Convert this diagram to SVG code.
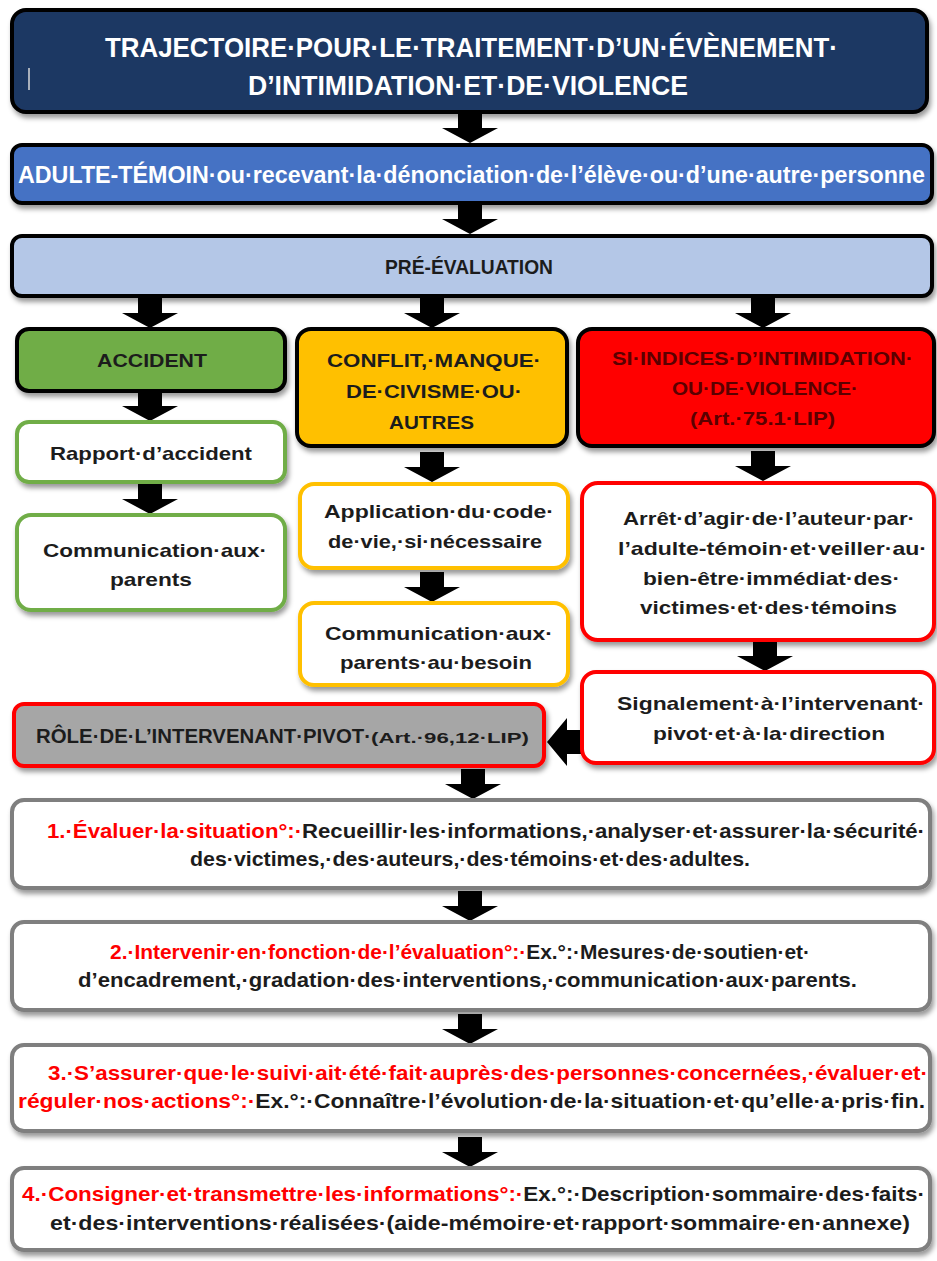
<svg xmlns="http://www.w3.org/2000/svg" width="937" height="1261" viewBox="0 0 937 1261">
<defs>
<filter id="sh" x="-5%" y="-10%" width="112%" height="130%">
<feDropShadow dx="2" dy="4" stdDeviation="2.5" flood-color="#000" flood-opacity="0.4"/>
</filter>
<path id="dn" d="M-12,-30 H12 V-15 H28 L0,0 L-28,-15 H-12 Z" fill="#000"/>
</defs>
<style>
text{font-family:"Liberation Sans",Arial,sans-serif;font-weight:bold}
.blk{stroke:#000;stroke-width:4}
.w{fill:#fff}
.d{fill:#1c1c1c}
.r{fill:#ff0000}
.m{fill:#5a0000}
.gb{fill:#fff;stroke:#70ad47;stroke-width:4}
.yb{fill:#fff;stroke:#ffc000;stroke-width:4}
.rb{fill:#fff;stroke:#ff0000;stroke-width:4}
.sb{fill:#fff;stroke:#7f7f7f;stroke-width:4}
</style>

<g id="connectors">
<use href="#dn" x="470" y="143"/>
<use href="#dn" x="470" y="234"/>
<use href="#dn" x="150" y="328"/>
<use href="#dn" x="432" y="328"/>
<use href="#dn" x="763" y="328"/>
<use href="#dn" x="150" y="421"/>
<use href="#dn" x="150" y="514"/>
<use href="#dn" x="432" y="482"/>
<use href="#dn" x="432" y="602"/>
<use href="#dn" x="763" y="481"/>
<use href="#dn" x="765" y="671"/>
<path d="M547,742 L567,718 V730 H584 V754 H567 V766 Z" fill="#000"/>
<use href="#dn" x="473" y="799"/>
<use href="#dn" x="470" y="921"/>
<use href="#dn" x="470" y="1044"/>
<use href="#dn" x="470" y="1167"/>
</g>

<g id="title">
<rect x="12" y="10" width="915" height="102" rx="14" fill="#1f3864" class="blk" filter="url(#sh)"/>
<line x1="29" y1="68" x2="29" y2="90" stroke="#d9d9d9" stroke-width="1.5"/>
<text x="105" y="57" font-size="28" class="w" textLength="733" lengthAdjust="spacingAndGlyphs">TRAJECTOIRE·POUR·LE·TRAITEMENT·D’UN·ÉVÈNEMENT·</text>
<text x="248" y="95" font-size="28" class="w" textLength="440" lengthAdjust="spacingAndGlyphs">D’INTIMIDATION·ET·DE·VIOLENCE</text>
</g>

<g id="adulte">
<rect x="12" y="145" width="920" height="58" rx="10" fill="#4472c4" class="blk" filter="url(#sh)"/>
<text x="18" y="183" font-size="23" class="w" textLength="907" lengthAdjust="spacingAndGlyphs">ADULTE-TÉMOIN·ou·recevant·la·dénonciation·de·l’élève·ou·d’une·autre·personne</text>
</g>

<g id="preevaluation">
<rect x="12" y="236" width="920" height="60" rx="10" fill="#b4c7e7" class="blk" filter="url(#sh)"/>
<text x="385" y="274" font-size="21" class="d" textLength="168" lengthAdjust="spacingAndGlyphs">PRÉ-ÉVALUATION</text>
</g>

<g id="accident">
<rect x="17" y="329" width="268" height="62" rx="12" fill="#70ad47" class="blk" filter="url(#sh)"/>
<text x="97" y="367" font-size="18" class="d" textLength="110" lengthAdjust="spacingAndGlyphs">ACCIDENT</text>
</g>

<g id="rapport">
<rect x="17" y="422" width="268" height="60" rx="12" class="gb" filter="url(#sh)"/>
<text x="50" y="460" font-size="19" class="d" textLength="202" lengthAdjust="spacingAndGlyphs">Rapport·d’accident</text>
</g>

<g id="communication-parents">
<rect x="17" y="515" width="268" height="95" rx="14" class="gb" filter="url(#sh)"/>
<text x="43" y="557" font-size="19" class="d" textLength="224" lengthAdjust="spacingAndGlyphs">Communication·aux·</text>
<text x="110" y="586" font-size="19" class="d" textLength="82" lengthAdjust="spacingAndGlyphs">parents</text>
</g>

<g id="conflit">
<rect x="297" y="329" width="270" height="117" rx="14" fill="#ffc000" class="blk" filter="url(#sh)"/>
<text x="327" y="367" font-size="18" class="d" textLength="214" lengthAdjust="spacingAndGlyphs">CONFLIT,·MANQUE·</text>
<text x="346" y="398" font-size="18" class="d" textLength="176" lengthAdjust="spacingAndGlyphs">DE·CIVISME·OU·</text>
<text x="389" y="429" font-size="18" class="d" textLength="85" lengthAdjust="spacingAndGlyphs">AUTRES</text>
</g>

<g id="application">
<rect x="300" y="484" width="268" height="84" rx="14" class="yb" filter="url(#sh)"/>
<text x="324" y="518" font-size="19" class="d" textLength="230" lengthAdjust="spacingAndGlyphs">Application·du·code·</text>
<text x="328" y="548" font-size="19" class="d" textLength="214" lengthAdjust="spacingAndGlyphs">de·vie,·si·nécessaire</text>
</g>

<g id="communication-besoin">
<rect x="300" y="603" width="268" height="82" rx="14" class="yb" filter="url(#sh)"/>
<text x="325" y="640" font-size="19" class="d" textLength="228" lengthAdjust="spacingAndGlyphs">Communication·aux·</text>
<text x="340" y="669" font-size="19" class="d" textLength="192" lengthAdjust="spacingAndGlyphs">parents·au·besoin</text>
</g>

<g id="indices">
<rect x="578" y="329" width="356" height="117" rx="14" fill="#ff0000" class="blk" filter="url(#sh)"/>
<text x="612" y="365" font-size="18" class="m" textLength="301" lengthAdjust="spacingAndGlyphs">SI·INDICES·D’INTIMIDATION·</text>
<text x="672" y="395" font-size="18" class="m" textLength="186" lengthAdjust="spacingAndGlyphs">OU·DE·VIOLENCE·</text>
<text x="690" y="425" font-size="18" class="m" textLength="145" lengthAdjust="spacingAndGlyphs">(Art.·75.1·LIP)</text>
</g>

<g id="arret">
<rect x="582" y="483" width="352" height="157" rx="16" class="rb" filter="url(#sh)"/>
<text x="623" y="525" font-size="19" class="d" textLength="292" lengthAdjust="spacingAndGlyphs">Arrêt·d’agir·de·l’auteur·par·</text>
<text x="618" y="555" font-size="19" class="d" textLength="309" lengthAdjust="spacingAndGlyphs">l’adulte-témoin·et·veiller·au·</text>
<text x="643" y="585" font-size="19" class="d" textLength="257" lengthAdjust="spacingAndGlyphs">bien-être·immédiat·des·</text>
<text x="640" y="614" font-size="19" class="d" textLength="257" lengthAdjust="spacingAndGlyphs">victimes·et·des·témoins</text>
</g>

<g id="signalement">
<rect x="582" y="672" width="352" height="91" rx="14" class="rb" filter="url(#sh)"/>
<text x="617" y="710" font-size="19" class="d" textLength="308" lengthAdjust="spacingAndGlyphs">Signalement·à·l’intervenant·</text>
<text x="653" y="740" font-size="19" class="d" textLength="232" lengthAdjust="spacingAndGlyphs">pivot·et·à·la·direction</text>
</g>

<g id="role-pivot">
<rect x="14" y="704" width="530" height="62" rx="10" fill="#a6a6a6" stroke="#ff0000" stroke-width="4" filter="url(#sh)"/>
<text x="36" y="743" font-size="20" class="d" textLength="335" lengthAdjust="spacingAndGlyphs">RÔLE·DE·L’INTERVENANT·PIVOT·</text>
<text x="371" y="743" font-size="15" class="d" textLength="158" lengthAdjust="spacingAndGlyphs">(Art.·96,12·LIP)</text>
</g>

<g id="etape1">
<rect x="12" y="800" width="918" height="88" rx="12" class="sb" filter="url(#sh)"/>
<text x="47" y="838" font-size="21" textLength="878" lengthAdjust="spacingAndGlyphs"><tspan class="r">1.·Évaluer·la·situation°:·</tspan><tspan class="d">Recueillir·les·informations,·analyser·et·assurer·la·sécurité·</tspan></text>
<text x="190" y="866" font-size="21" class="d" textLength="560" lengthAdjust="spacingAndGlyphs">des·victimes,·des·auteurs,·des·témoins·et·des·adultes.</text>
</g>

<g id="etape2">
<rect x="12" y="922" width="918" height="88" rx="12" class="sb" filter="url(#sh)"/>
<text x="110" y="959" font-size="21" textLength="700" lengthAdjust="spacingAndGlyphs"><tspan class="r">2.·Intervenir·en·fonction·de·l’évaluation°:·</tspan><tspan class="d">Ex.°:·Mesures·de·soutien·et·</tspan></text>
<text x="78" y="987" font-size="21" class="d" textLength="779" lengthAdjust="spacingAndGlyphs">d’encadrement,·gradation·des·interventions,·communication·aux·parents.</text>
</g>

<g id="etape3">
<rect x="12" y="1045" width="918" height="86" rx="12" class="sb" filter="url(#sh)"/>
<text x="48" y="1080" font-size="21" class="r" textLength="880" lengthAdjust="spacingAndGlyphs">3.·S’assurer·que·le·suivi·ait·été·fait·auprès·des·personnes·concernées,·évaluer·et·</text>
<text x="18" y="1108" font-size="21" textLength="907" lengthAdjust="spacingAndGlyphs"><tspan class="r">réguler·nos·actions°:·</tspan><tspan class="d">Ex.°:·Connaître·l’évolution·de·la·situation·et·qu’elle·a·pris·fin.</tspan></text>
</g>

<g id="etape4">
<rect x="12" y="1168" width="918" height="82" rx="12" class="sb" filter="url(#sh)"/>
<text x="22" y="1201" font-size="21" textLength="903" lengthAdjust="spacingAndGlyphs"><tspan class="r">4.·Consigner·et·transmettre·les·informations°:·</tspan><tspan class="d">Ex.°:·Description·sommaire·des·faits·</tspan></text>
<text x="50" y="1230" font-size="21" class="d" textLength="860" lengthAdjust="spacingAndGlyphs">et·des·interventions·réalisées·(aide-mémoire·et·rapport·sommaire·en·annexe)</text>
</g>
</svg>
